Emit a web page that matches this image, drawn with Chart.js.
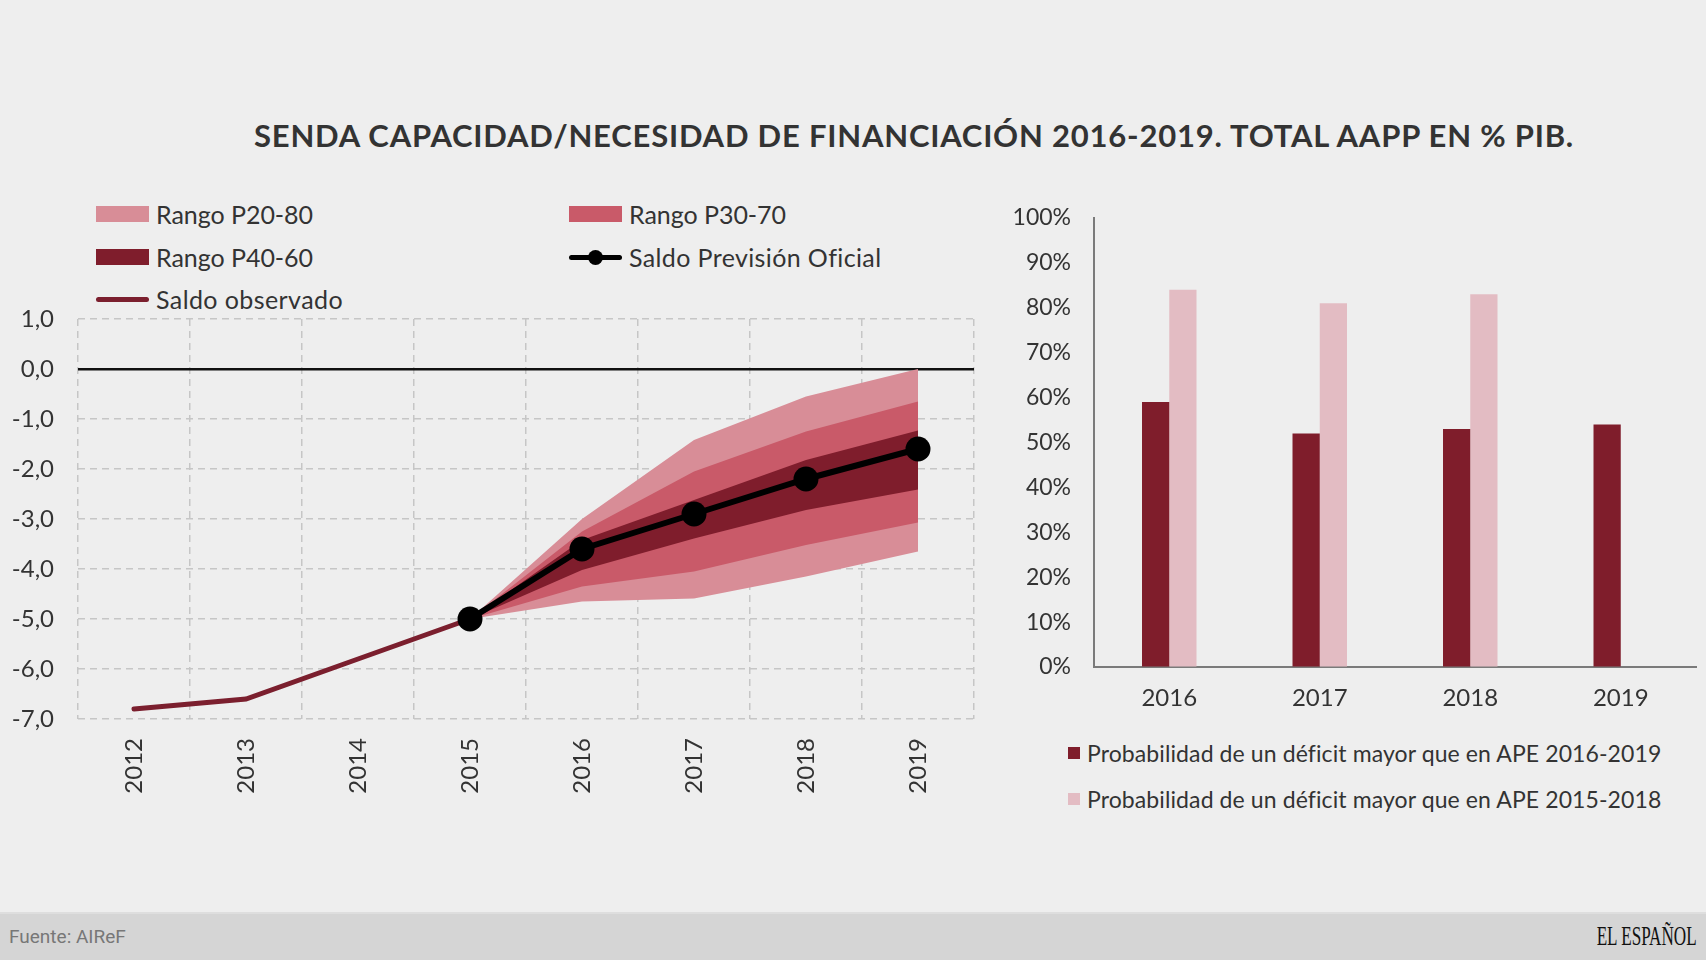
<!DOCTYPE html>
<html><head><meta charset="utf-8">
<script src="https://cdn.jsdelivr.net/npm/chart.js@4"></script>
<style>
html,body{margin:0;padding:0;background:#eeeeee;}
body{width:1706px;height:960px;position:relative;overflow:hidden;font-family:Lato,"Open Sans",sans-serif;color:#333;}
.abs{position:absolute;white-space:nowrap;}
#title{left:254px;top:115px;font-size:31px;font-weight:bold;color:#333;line-height:40px;}
.lg{position:absolute;height:30px;display:flex;align-items:center;font-size:25px;color:#333;white-space:nowrap;}
.sw{width:53px;height:16px;margin-right:7px;flex:none;}
.ln{width:53px;height:5px;margin-right:7px;flex:none;border-radius:3px;position:relative;}
.dot{position:absolute;left:19px;top:-5px;width:15px;height:15px;border-radius:8px;background:#000;}
.rl{position:absolute;height:30px;display:flex;align-items:center;font-size:23px;color:#333;white-space:nowrap;}
.sq{width:12px;height:12px;margin-right:7px;flex:none;}
#footer{left:0;top:912px;width:1706px;height:48px;background:#d5d5d5;border-top:2px solid #dedede;box-sizing:border-box;}
#src{left:9px;top:924px;font-family:Roboto,"Liberation Sans",sans-serif;font-size:19px;color:#777;line-height:26px;}
#logo{right:9px;top:920px;font-family:"Liberation Serif",serif;font-size:28px;color:#111;line-height:32px;transform-origin:100% 50%;}
</style></head>
<body>
<div id="title" class="abs">SENDA CAPACIDAD/NECESIDAD DE FINANCIACIÓN 2016-2019. TOTAL AAPP EN % PIB.</div>

<div class="lg" style="left:96px;top:199px"><div class="sw" style="background:#d88d97"></div><span id="l1">Rango P20-80</span></div>
<div class="lg" style="left:569px;top:199px"><div class="sw" style="background:#c95a69"></div><span id="l2">Rango P30-70</span></div>
<div class="lg" style="left:96px;top:242px"><div class="sw" style="background:#7f1d2c"></div><span id="l3">Rango P40-60</span></div>
<div class="lg" style="left:569px;top:242px"><div class="ln" style="background:#000"><div class="dot"></div></div><span id="l4">Saldo Previsión Oficial</span></div>
<div class="lg" style="left:96px;top:284px"><div class="ln" style="background:#7b1f2e"></div><span id="l5">Saldo observado</span></div>

<div class="abs" style="left:0;top:300px;width:1000px;height:520px"><canvas id="c1"></canvas></div>
<div class="abs" style="left:1000px;top:190px;width:706px;height:540px"><canvas id="c2"></canvas></div>

<div class="rl" style="left:1068px;top:738px"><div class="sq" style="background:#7f1d2b"></div><span id="rt1">Probabilidad de un déficit mayor que en APE 2016-2019</span></div>
<div class="rl" style="left:1068px;top:784px"><div class="sq" style="background:#e3bcc3"></div><span id="rt2">Probabilidad de un déficit mayor que en APE 2015-2018</span></div>

<div id="footer" class="abs"></div>
<div id="src" class="abs">Fuente: AIReF</div>
<div id="logo" class="abs">EL ESPAÑOL</div>

<script>
// ---- data ----
const years = ['2012','2013','2014','2015','2016','2017','2018','2019'];
const saldoObservado = [-6.8, -6.6, -5.8, -5.0, null, null, null, null];
const saldoPrevision = [null, null, null, -5.0, -3.6, -2.9, -2.2, -1.6];
const p20hi = [null, null, null, -5.0, -3.0, -1.42, -0.55, 0.0];
const p20lo = [null, null, null, -5.0, -4.65, -4.59, -4.15, -3.65];
const p30hi = [null, null, null, -5.0, -3.25, -2.05, -1.25, -0.65];
const p30lo = [null, null, null, -5.0, -4.35, -4.05, -3.52, -3.07];
const p40hi = [null, null, null, -5.0, -3.42, -2.62, -1.82, -1.23];
const p40lo = [null, null, null, -5.0, -4.02, -3.39, -2.82, -2.41];
const yTicksLeft = [1, 0, -1, -2, -3, -4, -5, -6, -7];

const barYears = ['2016','2017','2018','2019'];
const probAPE1619 = [59, 52, 53, 54];
const probAPE1518 = [84, 81, 83, null];

// ---- text fitting helpers ----
function fitSpacing(id, target){
  const el = document.getElementById(id);
  const w = el.getBoundingClientRect().width;
  const n = el.textContent.length;
  el.style.letterSpacing = ((target - w) / n).toFixed(3) + 'px';
}
fitSpacing('title', 1320);
fitSpacing('rt1', 574);
fitSpacing('rt2', 574);
fitSpacing('l1', 157);
fitSpacing('l2', 157);
fitSpacing('l3', 157);
fitSpacing('l4', 252);
fitSpacing('l5', 187);
(function(){
  const lg = document.getElementById('logo');
  const w = lg.getBoundingClientRect().width;
  lg.style.transform = 'scaleX(' + (100 / w).toFixed(3) + ')';
})();

Chart.defaults.font.family = 'Lato, "Open Sans", sans-serif';
Chart.defaults.color = '#333';

const C_P20 = '#d88d97', C_P30 = '#c95a69', C_P40 = '#7f1d2c';
function band(label, data, color, fill){
  return {label, data, borderWidth:0, pointRadius:0, pointHoverRadius:0, backgroundColor:color, borderColor:color, fill:fill, tension:0, spanGaps:false};
}
const GRID = '#c6c6c6';

new Chart(document.getElementById('c1'), {
  type:'line',
  data:{
    labels: years,
    datasets:[
      {label:'Saldo Previsión Oficial', data:saldoPrevision, borderColor:'#000', backgroundColor:'#000', borderWidth:6,
       pointRadius:12.5, pointBackgroundColor:'#000', pointBorderWidth:0, pointHoverRadius:12.5, fill:false, tension:0, clip:false},
      {label:'Saldo observado', data:saldoObservado, borderColor:'#7b1f2e', borderWidth:5, pointRadius:0, fill:false, tension:0, borderCapStyle:'round'},
      band('Rango P40-60', p40hi, C_P40, '+1'),
      band('P40 lo', p40lo, C_P40, false),
      band('Rango P30-70', p30hi, C_P30, '+1'),
      band('P30 lo', p30lo, C_P30, false),
      band('Rango P20-80', p20hi, C_P20, '+1'),
      band('P20 lo', p20lo, C_P20, false)
    ]
  },
  options:{
    responsive:true, maintainAspectRatio:false, animation:false,
    layout:{padding:{top:19, right:26, left:0, bottom:0}},
    plugins:{legend:{display:false}, tooltip:{enabled:false}},
    scales:{
      x:{
        offset:true,
        grid:{offset:true, color:GRID, lineWidth:1.5, drawTicks:true, tickLength:19, tickColor:'rgba(0,0,0,0)'},
        border:{display:false, dash:[7,5]},
        ticks:{autoSkip:false, minRotation:90, maxRotation:90, padding:0, font:{size:24}, color:'#333'},
        afterFit(s){ s.height = 101; }
      },
      y:{
        min:-7, max:1,
        afterBuildTicks(s){ s.ticks = yTicksLeft.map(v => ({value:v})); },
        grid:{
          drawTicks:true, tickLength:24, tickColor:'rgba(0,0,0,0)',
          color: c => (c.tick && c.tick.value === 0) ? '#111' : GRID,
          lineWidth: c => (c.tick && c.tick.value === 0) ? 2.5 : 1.5
        },
        border:{display:false, dash: c => (c.tick && c.tick.value === 0) ? [] : [7,5]},
        ticks:{padding:0, font:{size:24}, color:'#333', callback: v => v.toFixed(1).replace('.', ',')},
        afterFit(s){ s.width = 78; }
      }
    }
  }
});

new Chart(document.getElementById('c2'), {
  type:'bar',
  data:{
    labels: barYears,
    datasets:[
      {label:'Probabilidad de un déficit mayor que en APE 2016-2019', data:probAPE1619, backgroundColor:'#7f1d2b', categoryPercentage:0.362, barPercentage:1.0},
      {label:'Probabilidad de un déficit mayor que en APE 2015-2018', data:probAPE1518, backgroundColor:'#e3bcc3', categoryPercentage:0.362, barPercentage:1.0}
    ]
  },
  options:{
    responsive:true, maintainAspectRatio:false, animation:false,
    layout:{padding:{top:28, right:10, left:0, bottom:0}},
    plugins:{legend:{display:false}, tooltip:{enabled:false}},
    scales:{
      x:{
        grid:{display:true, drawOnChartArea:false, color:'rgba(0,0,0,0)', drawTicks:true, tickLength:17, tickColor:'rgba(0,0,0,0)'},
        border:{display:true, color:'#7a7a7a', width:2},
        ticks:{padding:0, font:{size:24}, color:'#333'},
        afterFit(s){ s.height = 63; }
      },
      y:{
        min:0, max:100,
        ticks:{stepSize:10, padding:0, font:{size:23}, color:'#333', callback: v => v + '%'},
        grid:{display:true, drawOnChartArea:false, color:'rgba(0,0,0,0)', drawTicks:true, tickLength:23, tickColor:'rgba(0,0,0,0)'},
        border:{display:true, color:'#7a7a7a', width:2},
        afterFit(s){ s.width = 94; }
      }
    }
  }
});
</script>
</body></html>
